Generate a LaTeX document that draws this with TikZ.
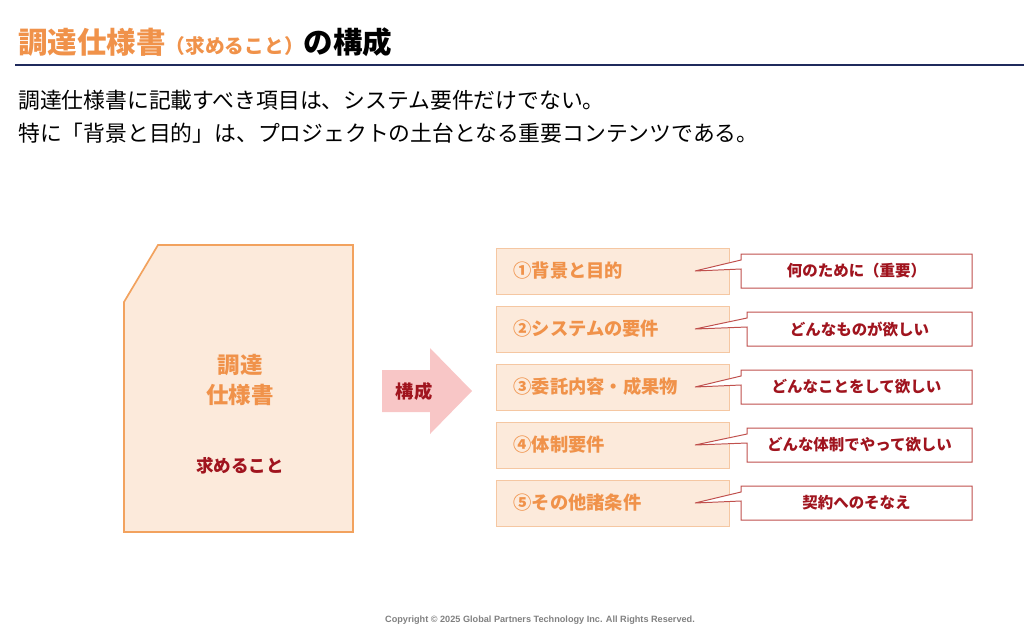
\documentclass[tikz,border=0pt]{standalone}
\usepackage{fontspec}
\setmainfont{Noto Sans CJK JP}
\newfontfamily\latinfont{Liberation Sans}
\usetikzlibrary{positioning}
\definecolor{navy}{HTML}{1F2A5C}
\definecolor{orangeT}{HTML}{F0924A}
\definecolor{peach}{HTML}{FCEADB}
\definecolor{peachLine}{HTML}{F5C7A2}
\definecolor{docLine}{HTML}{F2A25E}
\definecolor{darkred}{HTML}{A0141E}
\definecolor{calloutLine}{HTML}{C0504D}
\definecolor{pinkArrow}{HTML}{F8C6C6}
\tikzset{
  itembox/.style={draw=peachLine, fill=peach, minimum width=5.825cm, minimum height=1.15cm,
    text width=4.95cm, align=left, font=\fontsize{13}{13}\selectfont\bfseries, text=orangeT, inner sep=0pt},
  callout/.style={draw=calloutLine, fill=white, line width=0.7pt, line join=miter},
  calltext/.style={font=\fontsize{11}{11}\selectfont\bfseries, text=darkred},
}
\begin{document}
\begin{tikzpicture}[x=0.025cm, y=-0.025cm]
    \useasboundingbox (0,0) rectangle (1024,633);

    % title
    \node[anchor=west, inner sep=0pt] (title) at (18,42)
      {\fontsize{21}{21}\selectfont\bfseries\color{orangeT}調達仕様書{\fontsize{14}{14}\selectfont（求めること）}\color{black}の構成};
    \draw[navy, line width=1.5pt] (15,65) -- (1024,65);

    % lead text
    \node[anchor=west, inner sep=0pt] (lead1) at (18,100)
      {\fontsize{15.5}{15.5}\selectfont 調達仕様書に記載すべき項目は、システム要件だけでない。};
    \node[anchor=west, inner sep=0pt] (lead2) at (18,133)
      {\fontsize{15.5}{15.5}\selectfont 特に「背景と目的」は、プロジェクトの土台となる重要コンテンツである。};

    % document
    \draw[docLine, fill=peach, line width=1.2pt] (124,302) -- (158,245) -- (353,245) -- (353,532) -- (124,532) -- cycle;
    \node[align=center, text=orangeT, font=\fontsize{16}{22}\selectfont\bfseries] (doc) at (240,380) {調達\\仕様書};
    \node[text=darkred, font=\fontsize{12.5}{12.5}\selectfont\bfseries] (want) at (240,466) {求めること};

    % arrow
    \fill[pinkArrow] (382,370) -- (430,370) -- (430,348) -- (472,391) -- (430,434) -- (430,412) -- (382,412) -- cycle;
    \node[text=darkred, font=\fontsize{13}{13}\selectfont\bfseries] (kousei) at (414,392) {構成};

    % items and callouts
    \foreach \i/\y/\cx/\item/\note in {
        1/271/741/①背景と目的/何のために（重要）,
        2/329/747/②システムの要件/どんなものが欲しい,
        3/387/741/③委託内容・成果物/どんなことをして欲しい,
        4/445/747/④体制要件/どんな体制でやって欲しい,
        5/503/741/⑤その他諸条件/契約へのそなえ} {
      \node[itembox] (item\i) at (612.5,\y) {\item};
      \coordinate (tip\i) at (695,\y);
      \draw[callout] (\cx,{\y-17}) -- (972,{\y-17}) -- (972,{\y+17}) -- (\cx,{\y+17})
        -- (\cx,{\y-2}) -- (tip\i) -- (\cx,{\y-11}) -- cycle;
      \node[calltext] (note\i) at ({(\cx+972)/2},\y) {\note};
    }

    % footer
    \node[text=gray, font=\latinfont\fontsize{6.5}{6.5}\selectfont\bfseries] (copy) at (540,620)
      {Copyright © 2025 Global Partners Technology Inc. All Rights Reserved.};
\end{tikzpicture}
\end{document}
